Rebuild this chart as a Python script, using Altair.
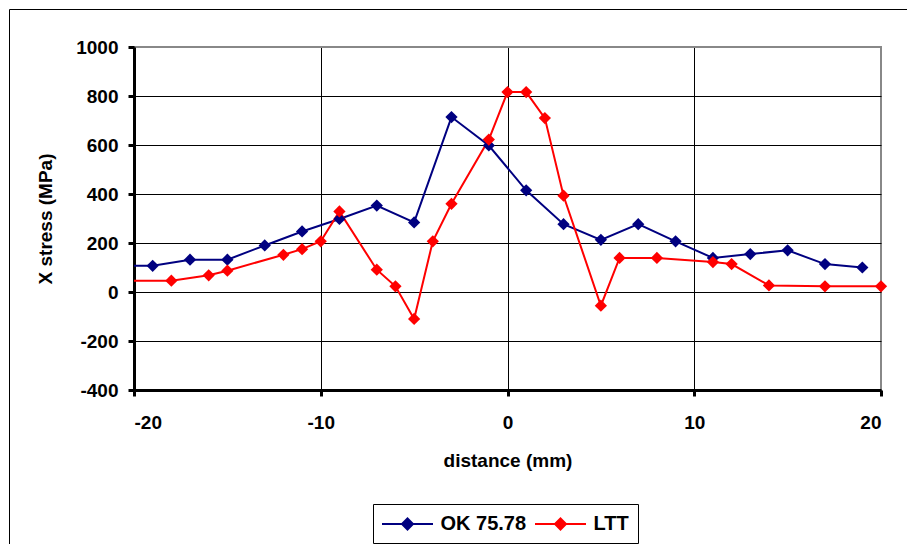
import altair as alt
import pandas as pd

# ---- data ----
ok_x = [-21, -19, -17, -15, -13, -11, -9, -7, -5, -3, -1, 1, 3, 5, 7, 9, 11, 13, 15, 17, 19]
ok_y = [107, 107, 132, 132, 190, 247, 298, 353, 284, 714, 598, 415, 277, 213, 277, 207, 139, 155, 170, 114, 100]

ltt_x = [-21, -18, -16, -15, -12, -11, -10, -9, -7, -6, -5, -4, -3, -1, 0, 1, 2, 3, 5, 6, 8, 11, 12, 14, 17, 20]
ltt_y = [46, 46, 68, 87, 152, 175, 207, 329, 91, 23, -110, 207, 360, 622, 816, 816, 710, 393, -56, 139, 139, 122, 114, 27, 23, 23]

series_names = ["OK 75.78", "LTT"]
series_colors = ["#000080", "#FF0000"]

x_ticks = [-20, -10, 0, 10, 20]
y_ticks = [-400, -200, 0, 200, 400, 600, 800, 1000]

rows = []
for i, (xv, yv) in enumerate(zip(ok_x, ok_y)):
    rows.append({"series": series_names[0], "x": xv, "y": yv, "order": i})
for i, (xv, yv) in enumerate(zip(ltt_x, ltt_y)):
    rows.append({"series": series_names[1], "x": xv, "y": yv, "order": i})
df = pd.DataFrame(rows)

FONT = "Liberation Sans"
W, H = 747, 343

xscale = alt.Scale(domain=[-20, 20], nice=False, zero=False)
yscale = alt.Scale(domain=[-400, 1000], nice=False, zero=False)
color = alt.Color(
    "series:N",
    scale=alt.Scale(domain=series_names, range=series_colors),
    sort=series_names,
    legend=alt.Legend(
        title=None,
        orient="none",
        direction="horizontal",
        legendX=239,
        legendY=457,
        symbolType="M-2.55,0L2.55,0M-0.55,0L0,-0.55L0.55,0L0,0.55Z",
        symbolSize=400,
        symbolOffset=14.5,
        symbolStrokeWidth=2,
        labelFont=FONT,
        labelFontSize=20,
        labelFontWeight="bold",
        labelColor="black",
        labelOffset=22,
        columnPadding=4,
        strokeColor="black",
        padding=9,
        cornerRadius=0,
        fillColor="white",
    ),
)

x_enc = alt.X(
    "x:Q",
    scale=xscale,
    title="distance (mm)",
    axis=alt.Axis(
        values=x_ticks,
        labelExpr="toString(datum.value)",
        grid=True,
        gridColor={"condition": {"test": "datum.value == 20", "value": "#888888"}, "value": "black"},
        gridWidth=1,
        domainColor="black",
        domainWidth=3,
        tickColor="black",
        tickWidth=3,
        tickSize=6,
        labelPadding=17,
        labelFont=FONT,
        labelFontSize=19,
        labelFontWeight="bold",
        labelColor="black",
        titleFont=FONT,
        titleFontSize=19,
        titleFontWeight="bold",
        titleColor="black",
        titlePadding=19,
    ),
)
y_enc = alt.Y(
    "y:Q",
    scale=yscale,
    title="X stress (MPa)",
    axis=alt.Axis(
        values=y_ticks,
        labelExpr="toString(datum.value)",
        grid=True,
        gridColor={"condition": {"test": "datum.value == 1000", "value": "#888888"}, "value": "black"},
        gridWidth=1,
        domainColor="black",
        domainWidth=3,
        tickColor="black",
        tickWidth=3,
        tickSize=6,
        labelPadding=10,
        labelFont=FONT,
        labelFontSize=19,
        labelFontWeight="bold",
        labelColor="black",
        titleFont=FONT,
        titleFontSize=19,
        titleFontWeight="bold",
        titleColor="black",
        titlePadding=20,
    ),
)

frame = alt.Chart(pd.DataFrame({"a": [0]})).mark_rect(
    fill=None, stroke="black", strokeWidth=1, clip=False
).encode(
    x=alt.value(-124.5), x2=alt.value(900), y=alt.value(-37.5), y2=alt.value(600)
)

lines = alt.Chart(df).mark_line(strokeWidth=2, clip=True).encode(
    x=x_enc, y=y_enc, color=color, order="order:Q", detail="series:N"
)

points = alt.Chart(df).transform_filter("datum.x >= -20").mark_point(
    shape="diamond", filled=True, size=150, opacity=1
).encode(
    x="x:Q", y="y:Q", color=alt.Color("series:N", scale=alt.Scale(domain=series_names, range=series_colors), legend=None)
)

chart = alt.layer(frame, lines, points).properties(
    width=W,
    height=H,
    autosize=alt.AutoSizeParams(type="none"),
    padding={"left": 134, "top": 47, "right": 26, "bottom": 154},
    background="white",
).configure_view(
    stroke="#888888", strokeWidth=2
)

chart.save("out.html", embed_options={"renderer": "svg", "actions": False})
